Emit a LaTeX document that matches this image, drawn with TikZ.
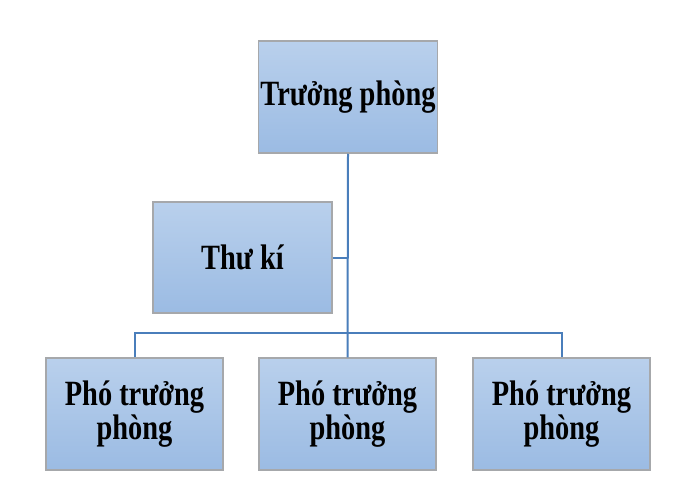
\documentclass[tikz,border=0pt]{standalone}
\usepackage{fontspec}
\setmainfont{Liberation Serif}
\newfontfamily\boxfont[FakeStretch=0.8]{Liberation Serif}
\definecolor{boxtop}{HTML}{B9D0EC}
\definecolor{boxbot}{HTML}{9BBBE3}
\definecolor{boxline}{HTML}{A6A8AB}
\definecolor{conn}{HTML}{4A7EBB}
\begin{document}
\begin{tikzpicture}[x=1pt,y=-1pt,
  orgbox/.style={draw=boxline,line width=1.5pt,top color=boxtop,bottom color=boxbot,
    minimum width=177pt,minimum height=112pt,inner sep=2pt,align=center,
    font=\boxfont\fontsize{35.5}{30.5}\selectfont\bfseries},
  link/.style={draw=conn,line width=2pt}]
\useasboundingbox[fill=white] (0,0) rectangle (700,500);
\node[orgbox] (tp) at (348,97) {Trưởng phòng};
\node[orgbox,minimum width=179pt,minimum height=111pt] (tk) at (242.5,257.5) {Thư kí};
\node[orgbox] (p1) at (134.5,414) {Phó trưởng\\phòng};
\node[orgbox] (p2) at (347.5,414) {Phó trưởng\\phòng};
\node[orgbox] (p3) at (561.5,414) {Phó trưởng\\phòng};
\coordinate (bus) at (348,333);
\coordinate (tkj) at (348,257.5);
\draw[link] (tp.south) -- (p2.north);
\draw[link] (tk.east) -- (tkj);
\draw[link] (p1.north) |- (bus) -| (p3.north);
\end{tikzpicture}
\end{document}
